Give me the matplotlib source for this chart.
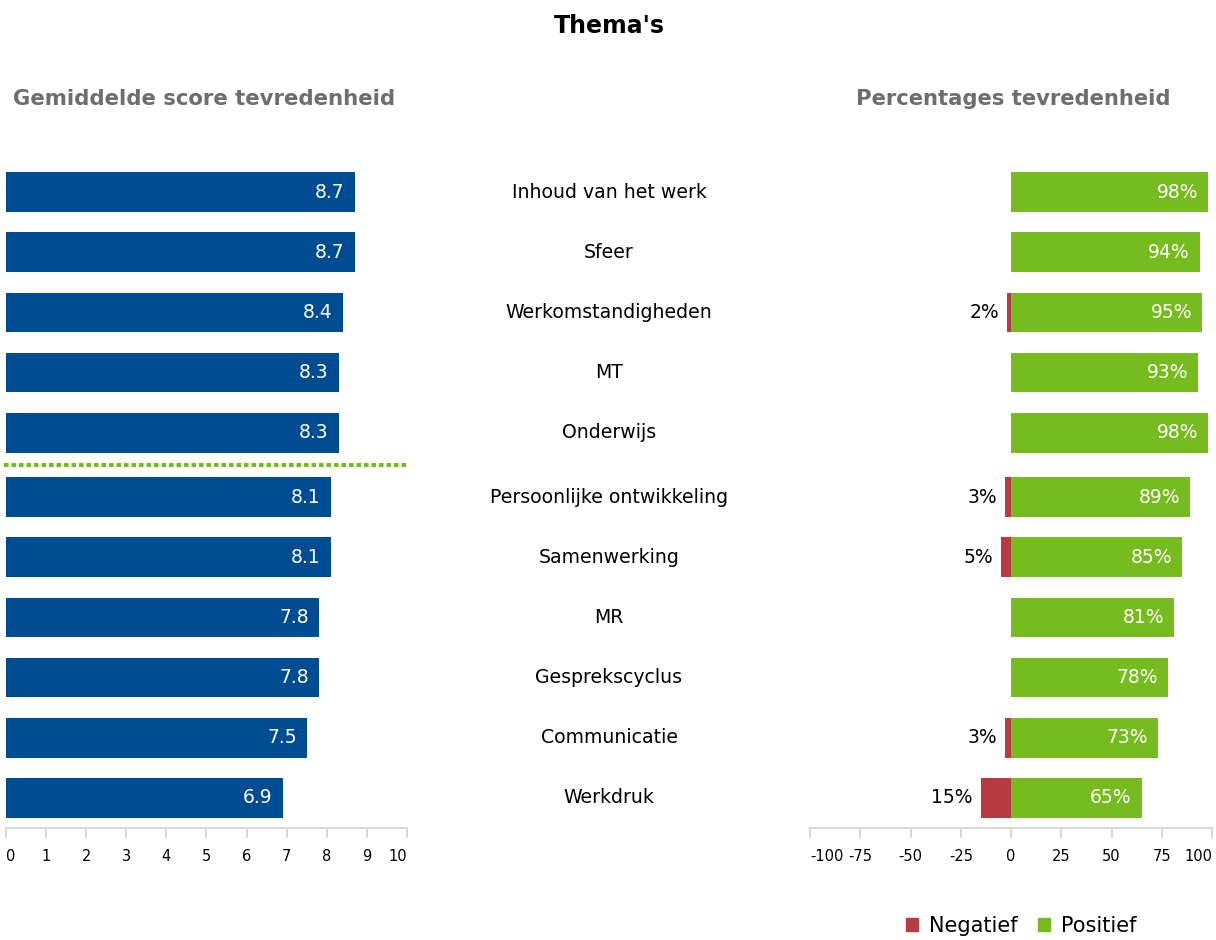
import matplotlib
matplotlib.use("Agg")
import matplotlib.pyplot as plt
from matplotlib.patches import Patch

plt.rcParams["font.family"] = ["DejaVu Sans"]
plt.rcParams["axes.unicode_minus"] = False

themes = [
    "Inhoud van het werk", "Sfeer", "Werkomstandigheden", "MT", "Onderwijs",
    "Persoonlijke ontwikkeling", "Samenwerking", "MR", "Gesprekscyclus",
    "Communicatie", "Werkdruk",
]
scores = [8.7, 8.7, 8.4, 8.3, 8.3, 8.1, 8.1, 7.8, 7.8, 7.5, 6.9]
negative = [0, 0, 2, 0, 0, 3, 5, 0, 0, 3, 15]
positive = [98, 94, 95, 93, 98, 89, 85, 81, 78, 73, 65]

BLUE = "#004c93"
GREEN = "#77bc1f"
RED = "#b83a43"
GREY_TXT = "#6e6e6e"
AXIS_GREY = "#d9d9d9"

# small extra gap under the first five rows (where the dotted line goes)
ypos = [i + (0.07 if i >= 5 else 0) for i in range(len(themes))]
ylim = (ypos[-1] + 0.5, -0.5)

fig = plt.figure(figsize=(12.16, 9.40), dpi=100)
ax_bottom = 1 - 828 / 940
ax_height = 666 / 940
ax_l = fig.add_axes([6 / 1216, ax_bottom, 401 / 1216, ax_height])
ax_r = fig.add_axes([810 / 1216, ax_bottom, 402 / 1216, ax_height])


def style_axis(ax):
    for side in ("top", "right", "left"):
        ax.spines[side].set_visible(False)
    ax.spines["bottom"].set_color(AXIS_GREY)
    ax.spines["bottom"].set_linewidth(1.5)
    ax.tick_params(axis="x", colors=AXIS_GREY, length=7, width=1.5,
                   labelcolor="black", labelsize=10.5, pad=8)
    ax.set_yticks([])
    ax.set_ylim(*ylim)
    # keep the outer tick labels inside the plot width
    labels = ax.get_xticklabels()
    labels[0].set_horizontalalignment("left")
    labels[-1].set_horizontalalignment("right")
    labels[0].set_x(labels[0].get_position()[0])


# left: average satisfaction score
ax_l.barh(ypos, scores, height=0.66, color=BLUE)
for y, v in zip(ypos, scores):
    ax_l.text(v - 0.25, y, "{:.1f}".format(v), color="white", fontsize=13.5,
              ha="right", va="center")
ax_l.set_xlim(0, 10)
ax_l.set_xticks(range(0, 11))
style_axis(ax_l)
sep_y = (ypos[4] + ypos[5]) / 2
ax_l.plot([-0.05, 10.05], [sep_y, sep_y], color=GREEN, lw=3,
          linestyle=(0, (1.1, 0.7)), clip_on=False)

# right: negative / positive percentages
ax_r.barh(ypos, [-n for n in negative], height=0.66, color=RED)
ax_r.barh(ypos, positive, height=0.66, color=GREEN)
for y, n, p in zip(ypos, negative, positive):
    ax_r.text(p - 5, y, "{}%".format(p), color="white", fontsize=13.5,
              ha="right", va="center")
    if n > 0:
        ax_r.text(-n - 4, y, "{}%".format(n), color="black", fontsize=13.5,
                  ha="right", va="center")
ax_r.set_xlim(-100, 100)
ax_r.set_xticks([-100, -75, -50, -25, 0, 25, 50, 75, 100])
style_axis(ax_r)

# theme names in the middle column
for y, name in zip(ypos, themes):
    ax_l.annotate(name, xy=(0, y), xycoords=("figure fraction", "data"),
                  xytext=(609 / 1216, 0), textcoords=("figure fraction", "offset points"),
                  ha="center", va="center", fontsize=13.6, annotation_clip=False)

fig.text(609 / 1216, 1 - 26 / 940, "Thema's", ha="center", va="center",
         fontsize=17, fontweight="bold")
fig.text(204 / 1216, 1 - 99 / 940, "Gemiddelde score tevredenheid",
         ha="center", va="center", fontsize=15.3, fontweight="bold", color=GREY_TXT)
fig.text(1013 / 1216, 1 - 99 / 940, "Percentages tevredenheid",
         ha="center", va="center", fontsize=15.2, fontweight="bold", color=GREY_TXT)

handles = [Patch(color=RED, label="Negatief"), Patch(color=GREEN, label="Positief")]
fig.legend(handles=handles, loc="center", bbox_to_anchor=(1021 / 1216, 1 - 926 / 940),
           ncol=2, frameon=False, fontsize=15, handlelength=0.6, handleheight=0.6,
           handletextpad=0.5, columnspacing=1.0)

fig.savefig("out.png", dpi=100)
